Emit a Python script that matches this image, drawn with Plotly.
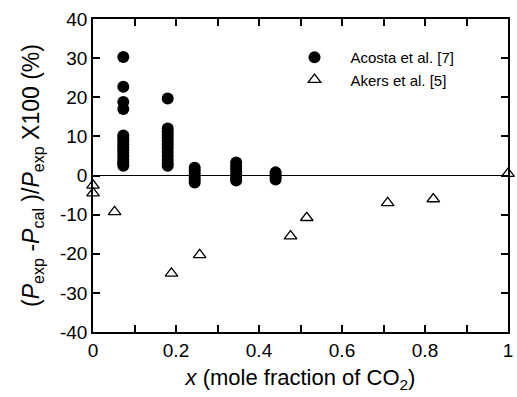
import plotly.graph_objects as go

# Acosta et al. [7] (filled circles)
acosta_x = [0.073]*16 + [0.18]*13 + [0.245]*6 + [0.345]*7 + [0.44]*4
acosta_y = [30.3, 22.7, 18.8, 17.0, 10.2, 9.5, 8.8, 8.0, 7.2, 6.5, 5.8, 5.0, 4.3, 3.6, 3.0, 2.5,
            19.7, 12.0, 11.2, 10.4, 9.6, 8.8, 8.0, 7.0, 6.0, 5.0, 4.0, 3.2, 2.5,
            2.0, 1.2, 0.4, -0.4, -1.1, -1.8,
            3.3, 2.5, 1.7, 0.9, 0.1, -0.6, -1.3,
            0.8, 0.2, -0.4, -1.0]

# Akers et al. [5] (open triangles)
akers_x = [0.0, 0.0, 0.052, 0.189, 0.257, 0.476, 0.515, 0.71, 0.82, 1.0]
akers_y = [-2.5, -4.5, -9.3, -25.0, -20.3, -15.5, -10.8, -7.0, -6.0, 0.5]

x_ticks = [0, 0.1, 0.2, 0.3, 0.4, 0.5, 0.6, 0.7, 0.8, 0.9, 1.0]
x_ticktext = ["0", "", "0.2", "", "0.4", "", "0.6", "", "0.8", "", "1"]
y_ticks = [-40, -30, -20, -10, 0, 10, 20, 30, 40]
y_ticktext = ["-40", "-30", "-20", "-10", "0", "10", "20", "30", "40"]

font_family = "Liberation Sans, Arial, sans-serif"

fig = go.Figure()
fig.add_trace(go.Scatter(
    x=acosta_x, y=acosta_y, mode="markers", name="Acosta et al. [7]",
    marker=dict(symbol="circle", size=12, color="black", line=dict(width=0)),
    cliponaxis=False))
fig.add_trace(go.Scatter(
    x=akers_x, y=akers_y, mode="markers", name="Akers et al. [5]",
    marker=dict(symbol="triangle-up-open", size=11, color="black", line=dict(width=1.3)),
    cliponaxis=False))

fig.update_layout(
    width=517, height=397,
    margin=dict(l=93, r=4, t=19, b=65),
    paper_bgcolor="white", plot_bgcolor="white",
    font=dict(family=font_family, color="black", size=18),
    showlegend=True,
    legend=dict(x=0.447, y=0.93, xanchor="left", yanchor="top",
                bgcolor="rgba(0,0,0,0)", font=dict(size=15),
                itemwidth=62, tracegroupgap=0),
    xaxis=dict(range=[0, 1], tickvals=x_ticks, ticktext=x_ticktext,
               ticks="inside", ticklen=7, tickwidth=1.5, tickcolor="black",
               showline=True, linecolor="black", linewidth=1.5, mirror="allticks",
               showgrid=False, zeroline=False, ticklabeloverflow="allow",
               tickfont=dict(size=19),
               title=dict(text="<i>x</i> (mole fraction of CO<sub>2</sub>)",
                          font=dict(size=22), standoff=10)),
    yaxis=dict(range=[-40, 40], tickvals=y_ticks, ticktext=y_ticktext,
               ticks="inside", ticklen=7, tickwidth=1.5, tickcolor="black",
               showline=True, linecolor="black", linewidth=1.5, mirror="allticks",
               showgrid=False, zeroline=True, zerolinecolor="black", zerolinewidth=1,
               tickfont=dict(size=19),
               title=dict(text="(<i>P</i><sub>exp</sub> -<i>P</i><sub>cal</sub> )/<i>P</i><sub>exp</sub> X100 (%)",
                          font=dict(size=23), standoff=14)),
)

fig.write_html("out.html")
